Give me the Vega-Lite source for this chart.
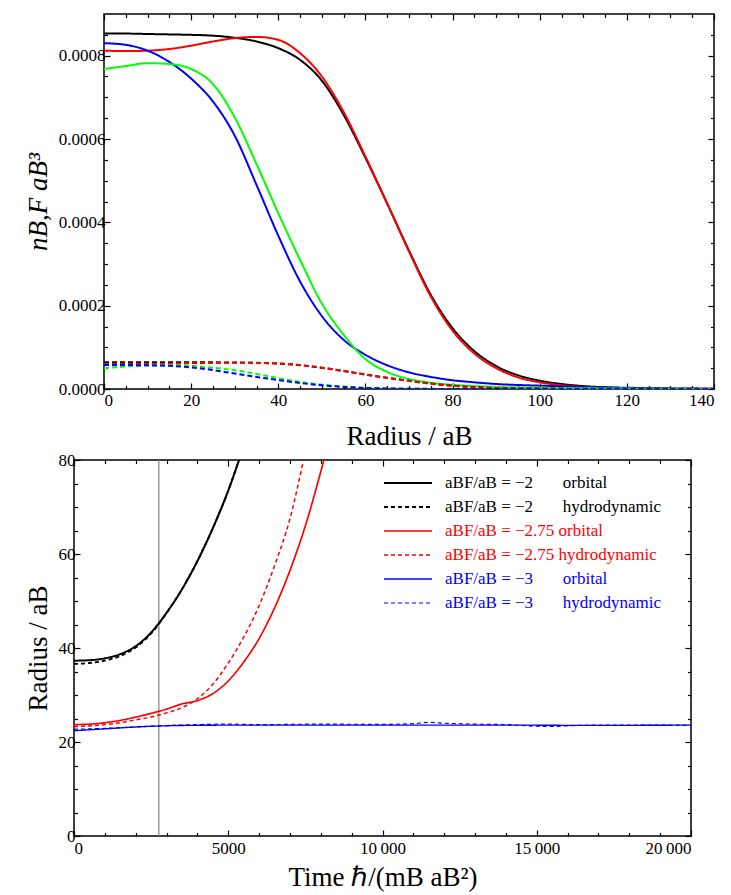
{
  "$schema": "https://vega.github.io/schema/vega-lite/v6.json",
  "padding": {"left": 23, "top": 12, "right": 5, "bottom": 2},
  "spacing": 0,
  "resolve": {"scale": {"color": "independent", "strokeDash": "independent", "strokeWidth": "independent"}, "legend": {"color": "independent", "strokeDash": "independent", "strokeWidth": "independent"}},
  "datasets": {
    "top": [
      {"r":0,"n":0.000853,"s":"Bs"},{"r":5,"n":0.000853,"s":"Bs"},{"r":10,"n":0.000852,"s":"Bs"},{"r":15,"n":0.000851,"s":"Bs"},{"r":20,"n":0.00085,"s":"Bs"},{"r":25,"n":0.000848,"s":"Bs"},{"r":30,"n":0.000843,"s":"Bs"},{"r":35,"n":0.000834,"s":"Bs"},{"r":40,"n":0.000818,"s":"Bs"},{"r":45,"n":0.00079,"s":"Bs"},{"r":50,"n":0.00074,"s":"Bs"},{"r":55,"n":0.000658,"s":"Bs"},{"r":60,"n":0.000555,"s":"Bs"},{"r":65,"n":0.000445,"s":"Bs"},{"r":70,"n":0.000332,"s":"Bs"},{"r":75,"n":0.000226,"s":"Bs"},{"r":80,"n":0.000146,"s":"Bs"},{"r":85,"n":0.000091,"s":"Bs"},{"r":90,"n":0.000055,"s":"Bs"},{"r":95,"n":0.000033,"s":"Bs"},{"r":100,"n":0.00002,"s":"Bs"},{"r":105,"n":0.000012,"s":"Bs"},{"r":110,"n":0.000007,"s":"Bs"},{"r":115,"n":0.000004,"s":"Bs"},{"r":120,"n":0.0000022,"s":"Bs"},{"r":130,"n":0.0000007,"s":"Bs"},{"r":140,"n":0.0000002,"s":"Bs"},
      {"r":0,"n":0.000812,"s":"Rs"},{"r":5,"n":0.000811,"s":"Rs"},{"r":10,"n":0.000812,"s":"Rs"},{"r":15,"n":0.000816,"s":"Rs"},{"r":20,"n":0.000824,"s":"Rs"},{"r":25,"n":0.000834,"s":"Rs"},{"r":30,"n":0.000842,"s":"Rs"},{"r":35,"n":0.000845,"s":"Rs"},{"r":40,"n":0.000838,"s":"Rs"},{"r":45,"n":0.000806,"s":"Rs"},{"r":50,"n":0.00075,"s":"Rs"},{"r":55,"n":0.000665,"s":"Rs"},{"r":60,"n":0.000558,"s":"Rs"},{"r":65,"n":0.000445,"s":"Rs"},{"r":70,"n":0.00033,"s":"Rs"},{"r":75,"n":0.000222,"s":"Rs"},{"r":80,"n":0.00014,"s":"Rs"},{"r":85,"n":0.000085,"s":"Rs"},{"r":90,"n":0.00005,"s":"Rs"},{"r":95,"n":0.000028,"s":"Rs"},{"r":100,"n":0.000016,"s":"Rs"},{"r":105,"n":0.000009,"s":"Rs"},{"r":110,"n":0.000005,"s":"Rs"},{"r":115,"n":0.0000027,"s":"Rs"},{"r":120,"n":0.0000014,"s":"Rs"},{"r":130,"n":0.0000003,"s":"Rs"},{"r":140,"n":0,"s":"Rs"},
      {"r":0,"n":0.00083,"s":"Ls"},{"r":5,"n":0.000826,"s":"Ls"},{"r":10,"n":0.000812,"s":"Ls"},{"r":15,"n":0.000785,"s":"Ls"},{"r":20,"n":0.000745,"s":"Ls"},{"r":25,"n":0.00069,"s":"Ls"},{"r":30,"n":0.000608,"s":"Ls"},{"r":35,"n":0.00049,"s":"Ls"},{"r":40,"n":0.000368,"s":"Ls"},{"r":45,"n":0.000258,"s":"Ls"},{"r":50,"n":0.000175,"s":"Ls"},{"r":55,"n":0.000118,"s":"Ls"},{"r":60,"n":0.000082,"s":"Ls"},{"r":65,"n":0.000057,"s":"Ls"},{"r":70,"n":0.00004,"s":"Ls"},{"r":75,"n":0.000029,"s":"Ls"},{"r":80,"n":0.000021,"s":"Ls"},{"r":85,"n":0.000016,"s":"Ls"},{"r":90,"n":0.000012,"s":"Ls"},{"r":100,"n":0.000008,"s":"Ls"},{"r":110,"n":0.000005,"s":"Ls"},{"r":120,"n":0.000003,"s":"Ls"},{"r":130,"n":0.0000015,"s":"Ls"},{"r":140,"n":0.000001,"s":"Ls"},
      {"r":0,"n":0.000768,"s":"Gs"},{"r":5,"n":0.000775,"s":"Gs"},{"r":10,"n":0.000782,"s":"Gs"},{"r":15,"n":0.00078,"s":"Gs"},{"r":20,"n":0.000768,"s":"Gs"},{"r":25,"n":0.000732,"s":"Gs"},{"r":30,"n":0.000652,"s":"Gs"},{"r":35,"n":0.00054,"s":"Gs"},{"r":40,"n":0.000422,"s":"Gs"},{"r":45,"n":0.00031,"s":"Gs"},{"r":50,"n":0.000205,"s":"Gs"},{"r":55,"n":0.00013,"s":"Gs"},{"r":60,"n":0.000072,"s":"Gs"},{"r":65,"n":0.000041,"s":"Gs"},{"r":70,"n":0.000024,"s":"Gs"},{"r":75,"n":0.000015,"s":"Gs"},{"r":80,"n":0.00001,"s":"Gs"},{"r":90,"n":0.000005,"s":"Gs"},{"r":100,"n":0.000003,"s":"Gs"},{"r":120,"n":0.000001,"s":"Gs"},{"r":140,"n":0,"s":"Gs"},
      {"r":0,"n":0.0000645,"s":"Bd"},{"r":10,"n":0.0000645,"s":"Bd"},{"r":20,"n":0.0000642,"s":"Bd"},{"r":30,"n":0.0000635,"s":"Bd"},{"r":40,"n":0.000061,"s":"Bd"},{"r":45,"n":0.000057,"s":"Bd"},{"r":50,"n":0.000051,"s":"Bd"},{"r":55,"n":0.000043,"s":"Bd"},{"r":60,"n":0.000035,"s":"Bd"},{"r":65,"n":0.000027,"s":"Bd"},{"r":70,"n":0.00002,"s":"Bd"},{"r":75,"n":0.000013,"s":"Bd"},{"r":80,"n":0.000008,"s":"Bd"},{"r":85,"n":0.0000045,"s":"Bd"},{"r":90,"n":0.0000025,"s":"Bd"},{"r":100,"n":0.0000008,"s":"Bd"},{"r":110,"n":0.0000002,"s":"Bd"},{"r":140,"n":0,"s":"Bd"},
      {"r":0,"n":0.00006,"s":"Rd"},{"r":10,"n":0.0000605,"s":"Rd"},{"r":20,"n":0.0000618,"s":"Rd"},{"r":30,"n":0.000063,"s":"Rd"},{"r":40,"n":0.0000615,"s":"Rd"},{"r":45,"n":0.0000575,"s":"Rd"},{"r":50,"n":0.000051,"s":"Rd"},{"r":55,"n":0.000043,"s":"Rd"},{"r":60,"n":0.0000345,"s":"Rd"},{"r":65,"n":0.0000265,"s":"Rd"},{"r":70,"n":0.0000195,"s":"Rd"},{"r":75,"n":0.0000128,"s":"Rd"},{"r":80,"n":0.0000078,"s":"Rd"},{"r":85,"n":0.0000043,"s":"Rd"},{"r":90,"n":0.0000024,"s":"Rd"},{"r":100,"n":0.0000007,"s":"Rd"},{"r":110,"n":0.0000002,"s":"Rd"},{"r":140,"n":0,"s":"Rd"},
      {"r":0,"n":0.00005,"s":"Gd"},{"r":5,"n":0.000054,"s":"Gd"},{"r":10,"n":0.0000565,"s":"Gd"},{"r":15,"n":0.000057,"s":"Gd"},{"r":20,"n":0.0000555,"s":"Gd"},{"r":25,"n":0.000051,"s":"Gd"},{"r":30,"n":0.000045,"s":"Gd"},{"r":35,"n":0.000036,"s":"Gd"},{"r":40,"n":0.000026,"s":"Gd"},{"r":45,"n":0.000017,"s":"Gd"},{"r":50,"n":0.0000105,"s":"Gd"},{"r":55,"n":0.000006,"s":"Gd"},{"r":60,"n":0.000003,"s":"Gd"},{"r":70,"n":0.0000008,"s":"Gd"},{"r":80,"n":0.0000002,"s":"Gd"},{"r":140,"n":0,"s":"Gd"},
      {"r":0,"n":0.0000575,"s":"Ld"},{"r":5,"n":0.0000575,"s":"Ld"},{"r":10,"n":0.0000568,"s":"Ld"},{"r":15,"n":0.0000555,"s":"Ld"},{"r":20,"n":0.000052,"s":"Ld"},{"r":25,"n":0.0000455,"s":"Ld"},{"r":30,"n":0.000037,"s":"Ld"},{"r":35,"n":0.000029,"s":"Ld"},{"r":40,"n":0.0000215,"s":"Ld"},{"r":45,"n":0.0000145,"s":"Ld"},{"r":50,"n":0.0000088,"s":"Ld"},{"r":55,"n":0.000005,"s":"Ld"},{"r":60,"n":0.0000025,"s":"Ld"},{"r":70,"n":0.0000006,"s":"Ld"},{"r":80,"n":0.0000001,"s":"Ld"},{"r":140,"n":0,"s":"Ld"}
    ],
    "bottom": [
      {"t":0,"R":37.3,"s":"k_orb"},{"t":500,"R":37.4,"s":"k_orb"},{"t":1000,"R":37.8,"s":"k_orb"},{"t":1500,"R":38.7,"s":"k_orb"},{"t":2000,"R":40.4,"s":"k_orb"},{"t":2500,"R":43.3,"s":"k_orb"},{"t":3000,"R":47.5,"s":"k_orb"},{"t":3500,"R":52.5,"s":"k_orb"},{"t":4000,"R":58.5,"s":"k_orb"},{"t":4500,"R":65.5,"s":"k_orb"},{"t":5000,"R":73.5,"s":"k_orb"},{"t":5350,"R":80,"s":"k_orb"},
      {"t":0,"R":36.6,"s":"k_hyd"},{"t":500,"R":36.8,"s":"k_hyd"},{"t":1000,"R":37.3,"s":"k_hyd"},{"t":1500,"R":38.3,"s":"k_hyd"},{"t":2000,"R":40.1,"s":"k_hyd"},{"t":2500,"R":43.1,"s":"k_hyd"},{"t":3000,"R":47.4,"s":"k_hyd"},{"t":3500,"R":52.5,"s":"k_hyd"},{"t":4000,"R":58.5,"s":"k_hyd"},{"t":4500,"R":65.5,"s":"k_hyd"},{"t":5000,"R":73.5,"s":"k_hyd"},{"t":5350,"R":80,"s":"k_hyd"},
      {"t":0,"R":23.7,"s":"r_orb"},{"t":500,"R":23.8,"s":"r_orb"},{"t":1000,"R":24.1,"s":"r_orb"},{"t":1500,"R":24.6,"s":"r_orb"},{"t":2000,"R":25.3,"s":"r_orb"},{"t":2500,"R":26.1,"s":"r_orb"},{"t":3000,"R":27,"s":"r_orb"},{"t":3500,"R":28.1,"s":"r_orb"},{"t":4000,"R":28.8,"s":"r_orb"},{"t":4500,"R":30.3,"s":"r_orb"},{"t":5000,"R":33,"s":"r_orb"},{"t":5500,"R":37,"s":"r_orb"},{"t":6000,"R":42,"s":"r_orb"},{"t":6500,"R":48.5,"s":"r_orb"},{"t":7000,"R":56.5,"s":"r_orb"},{"t":7500,"R":66,"s":"r_orb"},{"t":8100,"R":80,"s":"r_orb"},
      {"t":0,"R":23.3,"s":"r_hyd"},{"t":500,"R":23.4,"s":"r_hyd"},{"t":1000,"R":23.7,"s":"r_hyd"},{"t":1500,"R":24.1,"s":"r_hyd"},{"t":2000,"R":24.7,"s":"r_hyd"},{"t":2500,"R":25.3,"s":"r_hyd"},{"t":3000,"R":26.2,"s":"r_hyd"},{"t":3500,"R":27.3,"s":"r_hyd"},{"t":4000,"R":29.2,"s":"r_hyd"},{"t":4500,"R":32.3,"s":"r_hyd"},{"t":5000,"R":36.8,"s":"r_hyd"},{"t":5500,"R":42.3,"s":"r_hyd"},{"t":6000,"R":49,"s":"r_hyd"},{"t":6500,"R":57.5,"s":"r_hyd"},{"t":7000,"R":67.5,"s":"r_hyd"},{"t":7440,"R":80,"s":"r_hyd"},
      {"t":0,"R":22.4,"s":"b_orb"},{"t":500,"R":22.6,"s":"b_orb"},{"t":1000,"R":22.8,"s":"b_orb"},{"t":1500,"R":23,"s":"b_orb"},{"t":2000,"R":23.2,"s":"b_orb"},{"t":2500,"R":23.35,"s":"b_orb"},{"t":3000,"R":23.45,"s":"b_orb"},{"t":4000,"R":23.55,"s":"b_orb"},{"t":6000,"R":23.6,"s":"b_orb"},{"t":8000,"R":23.6,"s":"b_orb"},{"t":10000,"R":23.6,"s":"b_orb"},{"t":12000,"R":23.6,"s":"b_orb"},{"t":14000,"R":23.6,"s":"b_orb"},{"t":16000,"R":23.55,"s":"b_orb"},{"t":18000,"R":23.55,"s":"b_orb"},{"t":20000,"R":23.6,"s":"b_orb"},
      {"t":0,"R":22.7,"s":"b_hyd"},{"t":1000,"R":22.9,"s":"b_hyd"},{"t":2000,"R":23.2,"s":"b_hyd"},{"t":3000,"R":23.5,"s":"b_hyd"},{"t":4000,"R":23.7,"s":"b_hyd"},{"t":5000,"R":23.8,"s":"b_hyd"},{"t":6000,"R":23.7,"s":"b_hyd"},{"t":8000,"R":23.8,"s":"b_hyd"},{"t":10000,"R":23.75,"s":"b_hyd"},{"t":11000,"R":23.9,"s":"b_hyd"},{"t":11500,"R":24.2,"s":"b_hyd"},{"t":12000,"R":24.0,"s":"b_hyd"},{"t":13000,"R":23.8,"s":"b_hyd"},{"t":14000,"R":23.7,"s":"b_hyd"},{"t":15000,"R":23.35,"s":"b_hyd"},{"t":15500,"R":23.3,"s":"b_hyd"},{"t":16000,"R":23.45,"s":"b_hyd"},{"t":17000,"R":23.6,"s":"b_hyd"},{"t":18000,"R":23.6,"s":"b_hyd"},{"t":20000,"R":23.6,"s":"b_hyd"}
    ],
    "marker": [{"t": 2750}]
  },
  "vconcat": [
    {
      "spacing": 0,
      "bounds": "flush",
      "hconcat": [
        {
          "width": 30,
          "height": 375,
          "data": {"values": []},
          "mark": "point",
          "view": {"stroke": null}
        },
        {
          "width": 610,
          "height": 375,
          "data": {"name": "top"},
          "layer": [
            {
              "mark": {"type": "line", "strokeWidth": 2, "interpolate": "monotone", "clip": true},
              "encoding": {
                "x": {"field": "r", "type": "quantitative", "scale": {"domain": [0, 140], "nice": false, "zero": false},
                      "axis": {"orient": "bottom", "values": [0, 20, 40, 60, 80, 100, 120, 140], "title": "Radius / aB", "tickSize": -6, "labelPadding": 9, "titlePadding": 15, "labelFont": "Liberation Serif", "labelFontSize": 17, "titleFont": "Liberation Serif", "titleFontSize": 27}},
                "y": {"field": "n", "type": "quantitative", "scale": {"domain": [0, 0.0009], "nice": false},
                      "axis": {"orient": "left", "values": [0, 0.0002, 0.0004, 0.0006, 0.0008], "format": ".4f", "title": "nB,F aB³", "titleFontStyle": "italic", "tickSize": -6, "labelPadding": 5, "titlePadding": 6, "labelFont": "Liberation Serif", "labelFontSize": 17, "titleFont": "Liberation Serif", "titleFontSize": 27}},
                "color": {"field": "s", "type": "nominal", "legend": null,
                          "scale": {"domain": ["Bs", "Rs", "Ls", "Gs", "Bd", "Rd", "Gd", "Ld"], "range": ["#000000", "#ff0000", "#0000ff", "#00ff00", "#000000", "#ff0000", "#00ff00", "#0000ff"]}},
                "strokeDash": {"field": "s", "type": "nominal", "legend": null,
                          "scale": {"domain": ["Bs", "Rs", "Ls", "Gs", "Bd", "Rd", "Gd", "Ld"], "range": [[1, 0], [1, 0], [1, 0], [1, 0], [5, 3], [5, 3], [5, 3], [5, 3]]}}
              }
            },
            {
              "mark": {"type": "point", "opacity": 0},
              "encoding": {
                "x": {"field": "r", "type": "quantitative", "axis": {"orient": "top", "values": [0, 20, 40, 60, 80, 100, 120, 140], "labels": false, "title": null, "tickSize": -6}},
                "y": {"field": "n", "type": "quantitative", "axis": {"orient": "right", "values": [0, 0.0002, 0.0004, 0.0006, 0.0008], "labels": false, "title": null, "tickSize": -6}}
              }
            },
            {
              "mark": {"type": "point", "opacity": 0},
              "encoding": {
                "x": {"field": "r", "type": "quantitative", "axis": {"orient": "bottom", "values": [5, 10, 15, 25, 30, 35, 45, 50, 55, 65, 70, 75, 85, 90, 95, 105, 110, 115, 125, 130, 135], "labels": false, "title": null, "tickSize": -3.5}},
                "y": {"field": "n", "type": "quantitative", "axis": {"orient": "left", "values": [0.00005, 0.0001, 0.00015, 0.00025, 0.0003, 0.00035, 0.00045, 0.0005, 0.00055, 0.00065, 0.0007, 0.00075, 0.00085], "labels": false, "title": null, "tickSize": -3.5}}
              }
            },
            {
              "mark": {"type": "point", "opacity": 0},
              "encoding": {
                "x": {"field": "r", "type": "quantitative", "axis": {"orient": "top", "values": [5, 10, 15, 25, 30, 35, 45, 50, 55, 65, 70, 75, 85, 90, 95, 105, 110, 115, 125, 130, 135], "labels": false, "title": null, "tickSize": -3.5}},
                "y": {"field": "n", "type": "quantitative", "axis": {"orient": "right", "values": [0.00005, 0.0001, 0.00015, 0.00025, 0.0003, 0.00035, 0.00045, 0.0005, 0.00055, 0.00065, 0.0007, 0.00075, 0.00085], "labels": false, "title": null, "tickSize": -3.5}}
              }
            }
          ],
          "resolve": {"axis": {"x": "independent", "y": "independent"}}
        }
      ]
    },
    {
      "width": 617,
      "height": 376,
      "layer": [
        {
          "data": {"name": "marker"},
          "mark": {"type": "rule", "color": "#808080", "strokeWidth": 1.2},
          "encoding": {
            "x": {"field": "t", "type": "quantitative", "scale": {"domain": [0, 20000], "nice": false, "zero": false},
                  "axis": {"orient": "bottom", "values": [0, 5000, 10000, 15000, 20000], "labelExpr": "datum.value >= 10000 ? format(datum.value / 1000, 'd') + '\u2009000' : format(datum.value, 'd')", "title": "Time ℏ/(mB aB²)", "tickSize": -6, "labelPadding": 10, "titlePadding": 8, "labelFont": "Liberation Serif", "labelFontSize": 17, "titleFont": "Liberation Serif", "titleFontSize": 27}}
          }
        },
        {
          "data": {"name": "bottom"},
          "mark": {"type": "line", "interpolate": "monotone", "clip": true},
          "encoding": {
            "x": {"field": "t", "type": "quantitative", "axis": {"orient": "top", "values": [0, 5000, 10000, 15000, 20000], "labels": false, "title": null, "tickSize": -6}},
            "y": {"field": "R", "type": "quantitative", "scale": {"domain": [0, 80], "nice": false},
                  "axis": {"orient": "left", "values": [0, 20, 40, 60, 80], "title": "Radius / aB", "tickSize": -6, "labelPadding": 5, "titlePadding": 6, "labelFont": "Liberation Serif", "labelFontSize": 17, "titleFont": "Liberation Serif", "titleFontSize": 27}},
            "color": {"field": "s", "type": "nominal",
                      "scale": {"domain": ["k_orb", "k_hyd", "r_orb", "r_hyd", "b_orb", "b_hyd"], "range": ["#000000", "#000000", "#ff0000", "#ff0000", "#0000ff", "#0000ff"]},
                      "legend": {
                        "orient": "none", "legendX": 325, "legendY": 14, "title": null, "padding": 0,
                        "symbolType": "M-3,0H3", "symbolSize": 256, "labelOffset": 28, "rowPadding": 7,
                        "labelFontSize": 17, "labelLimit": 400, "labelFont": "Liberation Serif",
                        "labelExpr": "datum.value == 'k_orb' ? 'aBF/aB = −2\u00a0\u00a0\u00a0\u00a0\u00a0\u00a0\u00a0orbital' : datum.value == 'k_hyd' ? 'aBF/aB = −2\u00a0\u00a0\u00a0\u00a0\u00a0\u00a0\u00a0hydrodynamic' : datum.value == 'r_orb' ? 'aBF/aB = −2.75\u00a0orbital' : datum.value == 'r_hyd' ? 'aBF/aB = −2.75\u00a0hydrodynamic' : datum.value == 'b_orb' ? 'aBF/aB = −3\u00a0\u00a0\u00a0\u00a0\u00a0\u00a0\u00a0orbital' : 'aBF/aB = −3\u00a0\u00a0\u00a0\u00a0\u00a0\u00a0\u00a0hydrodynamic'",
                        "encode": {"labels": {"update": {"fill": {"signal": "indexof(datum.value, 'r_') == 0 ? '#ff0000' : (indexof(datum.value, 'b_') == 0 ? '#0000ff' : '#000000')"}}}}
                      }},
            "strokeDash": {"field": "s", "type": "nominal",
                      "scale": {"domain": ["k_orb", "k_hyd", "r_orb", "r_hyd", "b_orb", "b_hyd"], "range": [[1, 0], [4, 3], [1, 0], [4, 3], [1, 0], [4, 3]]}},
            "strokeWidth": {"field": "s", "type": "nominal",
                      "scale": {"domain": ["k_orb", "k_hyd", "r_orb", "r_hyd", "b_orb", "b_hyd"], "range": [2, 1.2, 2, 1.2, 2, 1.2]}}
          }
        },
        {
          "data": {"name": "bottom"},
          "mark": {"type": "point", "opacity": 0},
          "encoding": {
            "x": {"field": "t", "type": "quantitative", "axis": {"orient": "bottom", "values": [1000, 2000, 3000, 4000, 6000, 7000, 8000, 9000, 11000, 12000, 13000, 14000, 16000, 17000, 18000, 19000], "labels": false, "title": null, "tickSize": -3.5}},
            "y": {"field": "R", "type": "quantitative", "axis": {"orient": "right", "values": [0, 20, 40, 60, 80], "labels": false, "title": null, "tickSize": -6}}
          }
        },
        {
          "data": {"name": "bottom"},
          "mark": {"type": "point", "opacity": 0},
          "encoding": {
            "x": {"field": "t", "type": "quantitative", "axis": {"orient": "top", "values": [1000, 2000, 3000, 4000, 6000, 7000, 8000, 9000, 11000, 12000, 13000, 14000, 16000, 17000, 18000, 19000], "labels": false, "title": null, "tickSize": -3.5}},
            "y": {"field": "R", "type": "quantitative", "axis": {"orient": "left", "values": [5, 10, 15, 25, 30, 35, 45, 50, 55, 65, 70, 75], "labels": false, "title": null, "tickSize": -3.5}}
          }
        },
        {
          "data": {"name": "bottom"},
          "mark": {"type": "point", "opacity": 0},
          "encoding": {
            "x": {"field": "t", "type": "quantitative", "axis": null},
            "y": {"field": "R", "type": "quantitative", "axis": {"orient": "right", "values": [5, 10, 15, 25, 30, 35, 45, 50, 55, 65, 70, 75], "labels": false, "title": null, "tickSize": -3.5}}
          }
        }
      ],
      "resolve": {"axis": {"x": "independent", "y": "independent"}}
    }
  ],
  "config": {
    "view": {"stroke": "#000000", "strokeWidth": 1.5},
    "font": "Liberation Serif",
    "axis": {
      "domain": false, "grid": false,
      "labelFont": "Liberation Serif", "labelFontSize": 17, "labelColor": "#000000",
      "titleFont": "Liberation Serif", "titleFontSize": 27, "titleFontWeight": "normal", "titleColor": "#000000",
      "tickColor": "#000000", "tickWidth": 1.2
    },
    "legend": {"labelFont": "Liberation Serif", "labelColor": "#000000"}
  }
}
